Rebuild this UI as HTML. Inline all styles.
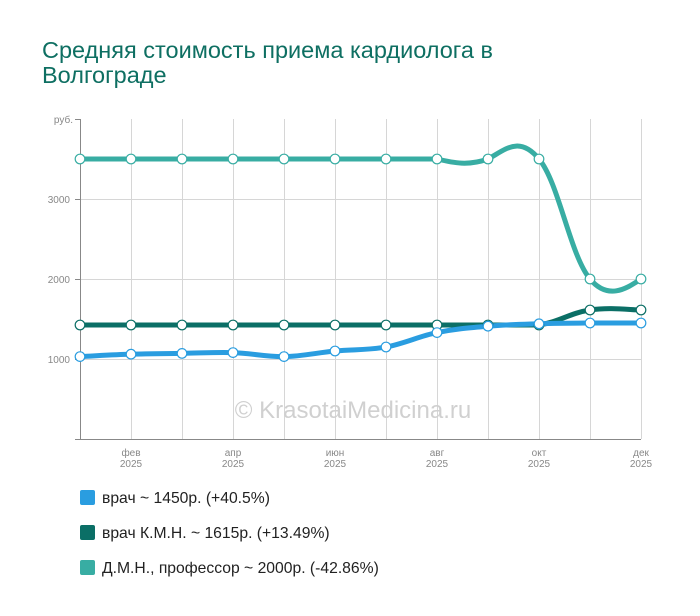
<!DOCTYPE html>
<html><head><meta charset="utf-8"><style>
body{margin:0;background:#fff;width:700px;height:616px;overflow:hidden;font-family:"Liberation Sans",Arial,sans-serif}
.t{position:absolute;left:42px;top:38px;font-size:23.5px;line-height:25px;color:#0e6f62}
.lg{position:absolute;left:80px;font-size:15.7px;color:#222}
.lg i{display:inline-block;width:15px;height:15px;border-radius:2px;vertical-align:-2px;margin-right:7px}
</style></head><body>
<div class="t">Средняя стоимость приема кардиолога в<br>Волгограде</div>
<svg width="700" height="616" style="position:absolute;left:0;top:0" id="s">
<g stroke="#d6d6d6" stroke-width="1" id="grid"></g>
<g stroke="#888" stroke-width="1">
<line x1="80.5" y1="119" x2="80.5" y2="439"/>
<line x1="75" y1="439.5" x2="641" y2="439.5"/>
<line x1="75" y1="119.5" x2="80" y2="119.5"/>
<line x1="75" y1="199.5" x2="80" y2="199.5"/>
<line x1="75" y1="279.5" x2="80" y2="279.5"/>
<line x1="75" y1="359.5" x2="80" y2="359.5"/>
</g>
<g font-size="10" fill="#888" text-anchor="end">
<text x="73" y="123">руб.</text><text x="70" y="203">3000</text><text x="70" y="283">2000</text><text x="70" y="363">1000</text>
</g>
<g font-size="10" fill="#888" text-anchor="middle">
<text x="131" y="456">фев</text><text x="131" y="467">2025</text>
<text x="233" y="456">апр</text><text x="233" y="467">2025</text>
<text x="335" y="456">июн</text><text x="335" y="467">2025</text>
<text x="437" y="456">авг</text><text x="437" y="467">2025</text>
<text x="539" y="456">окт</text><text x="539" y="467">2025</text>
<text x="641" y="456">дек</text><text x="641" y="467">2025</text>
</g>
<text x="353" y="418" font-size="24" fill="#d0d0d0" text-anchor="middle">© KrasotaiMedicina.ru</text>
<path id="teal" fill="none" stroke="#38ada3" stroke-width="5" d="M80 159 L437 159 C454 163 468 166 488 159 C505 150 519 135 539 159 C559 183 570 255 590 279 C610 303 631 285 641 279"/>
<path id="dark" fill="none" stroke="#0b6f66" stroke-width="5" d="M80 325 L539 325 C559 322 570 313 590 310 C610 307 631 310 641 310"/>
<path id="blue" fill="none" stroke="#2a9de0" stroke-width="5"/>
<g id="pts"></g>
</svg>
<div class="lg" style="top:490px"><i style="background:#2a9de0"></i>врач ~ 1450р. (+40.5%)</div>
<div class="lg" style="top:525px"><i style="background:#0b6f66"></i>врач К.М.Н. ~ 1615р. (+13.49%)</div>
<div class="lg" style="top:560px"><i style="background:#38ada3"></i>Д.М.Н., профессор ~ 2000р. (-42.86%)</div>
<script>
var ns="http://www.w3.org/2000/svg",g=document.getElementById('grid');
function el(p,t,a){var e=document.createElementNS(ns,t);for(var k in a)e.setAttribute(k,a[k]);p.appendChild(e);}
for(var i=1;i<12;i++){var x=80+51*i+.5;el(g,'line',{x1:x,y1:119,x2:x,y2:439});}
[199,279,359].forEach(function(y){el(g,'line',{x1:80,y1:y+.5,x2:641,y2:y+.5});});
var X=[];for(i=0;i<12;i++)X.push(80+51*i);
var B=[1030,1060,1070,1080,1030,1100,1150,1330,1410,1440,1450,1450].map(function(v){return 439-0.08*v;});
var d="M"+X[0]+" "+B[0];
for(i=0;i<11;i++){var p0=i?i-1:i,p3=i<10?i+2:i+1;
d+=" C"+(X[i]+(X[i+1]-X[p0])*.18)+" "+(B[i]+(B[i+1]-B[p0])*.18)+" "+(X[i+1]-(X[p3]-X[i])*.18)+" "+(B[i+1]-(B[p3]-B[i])*.18)+" "+X[i+1]+" "+B[i+1];}
document.getElementById('blue').setAttribute('d',d);
var pts=document.getElementById('pts');
var T=[159,159,159,159,159,159,159,159,159,159,279,279],D=[325,325,325,325,325,325,325,325,325,325,310,310];
[[T,'#38ada3'],[D,'#0b6f66'],[B,'#2a9de0']].forEach(function(s){for(var i=0;i<12;i++)el(pts,'circle',{cx:X[i],cy:s[0][i],r:4.8,fill:'#fff',stroke:s[1],'stroke-width':1.2});});
</script>
</body></html>
